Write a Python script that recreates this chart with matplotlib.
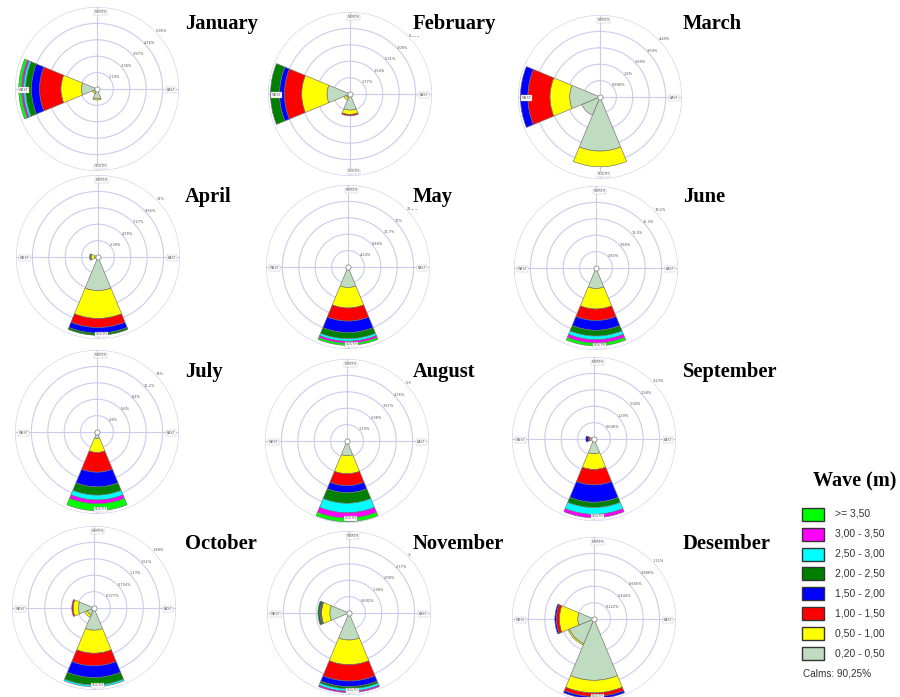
import numpy as np
import matplotlib
matplotlib.use("Agg")
import matplotlib.pyplot as plt
from matplotlib.patches import Rectangle

# ---------------- data ----------------
months = ["January", "February", "March", "April", "May", "June",
          "July", "August", "September", "October", "November", "Desember"]

wave_bins = ["0,20 - 0,50", "0,50 - 1,00", "1,00 - 1,50", "1,50 - 2,00",
             "2,00 - 2,50", "2,50 - 3,00", "3,00 - 3,50", ">= 3,50"]
bin_colors = ["#c0dcc0", "#ffff00", "#ff0000", "#0000ff",
              "#008000", "#00ffff", "#ff00ff", "#00ff00"]

compass_deg = {"N": 0, "E": 90, "S": 180, "SW": 225, "W": 270}

# ring step (%) of each month's rose (5 rings)
ring_step = [1.19, 1.77, 0.898, 2.39, 4.24, 3.83, 2.8, 1.19, 0.646, 0.377, 0.692, 0.222]
ring_labels = [
    ["1,19%", "2,38%", "3,57%", "4,76%", "5,95%"],
    ["1,77%", "3,54%", "5,31%", "7,08%", "8,85%"],
    ["0,898%", "1,8%", "2,69%", "3,59%", "4,49%"],
    ["2,39%", "4,78%", "7,17%", "9,56%", "12%"],
    ["4,24%", "8,48%", "12,7%", "17%", "21,2%"],
    ["3,83%", "7,66%", "11,5%", "15,3%", "19,2%"],
    ["2,8%", "5,6%", "8,4%", "11,2%", "14%"],
    ["1,19%", "2,38%", "3,57%", "4,76%", "5,95%"],
    ["0,646%", "1,29%", "1,94%", "2,58%", "3,23%"],
    ["0,377%", "0,754%", "1,13%", "1,51%", "1,89%"],
    ["0,692%", "1,38%", "2,08%", "2,77%", "3,46%"],
    ["0,222%", "0,444%", "0,666%", "0,888%", "1,11%"],
]

# frequency (%) per wave-height bin, by direction, for each month
jan = {"W": [1.13, 1.49, 1.55, 0.59, 0.42, 0.15, 0.14, 0.21],
       "S": [0.71, 0.09], "SW": [0.24, 0.12]}
feb = {"W": [2.48, 2.74, 1.86, 0.53, 0.97],
       "S": [1.74, 0.47, 0.14], "SW": [0.44, 0.27]}
mar = {"W": [1.66, 1.08, 1.21, 0.41],
       "S": [2.96, 0.86], "SW": [1.08]}
apr = {"S": [4.90, 4.06, 1.32, 0.83, 0.30],
       "W": [0.48, 0.54, 0.06, 0.06, 0.06]}
may = {"S": [5.30, 5.30, 3.39, 2.97, 1.59, 0.64, 0.53, 0.53]}
jun = {"S": [4.79, 4.79, 2.68, 2.29, 1.34, 0.87, 0.76, 0.67]}
jul = {"S": [1.12, 2.38, 3.36, 2.52, 1.40, 0.84, 0.63, 1.19]}
aug = {"S": [1.07, 1.31, 0.86, 0.51, 0.77, 0.69, 0.38, 0.27]}
sep = {"S": [0.58, 0.62, 0.61, 0.68, 0.21, 0.27, 0.13],
       "W": [0.10, 0.06, 0.07, 0.09]}
oct_ = {"S": [0.51, 0.53, 0.29, 0.27, 0.17, 0.04],
        "W": [0.36, 0.12, 0.03], "SW": [0.17, 0.06]}
nov = {"S": [1.14, 1.04, 0.69, 0.24, 0.09, 0.10, 0.06],
       "W": [0.81, 0.35, 0.03, 0.04, 0.08]}
dec = {"S": [0.83, 0.17, 0.05, 0.03],
       "W": [0.22, 0.25, 0.04, 0.02], "SW": [0.36, 0.02]}
month_data = [jan, feb, mar, apr, may, jun, jul, aug, sep, oct_, nov, dec]

calms_text = "Calms: 90,25%"

# ---------------- layout ----------------
W, H = 900, 697
fig = plt.figure(figsize=(W / 100, H / 100), dpi=100)
fig.patch.set_facecolor("white")

centers = [(97, 89), (350, 94), (600, 97),
           (98, 257), (348, 267), (596, 268),
           (97, 432), (347, 441), (594, 439),
           (94, 608), (349, 613), (594, 619)]
title_pos = [(185, 29), (413, 29), (683, 29),
             (185, 202), (413, 202), (683, 202),
             (185, 377), (413, 377), (683, 377),
             (185, 549), (413, 549), (683, 549)]
R = 82
ring_color = "#cbcbee"
th = np.linspace(0, 2 * np.pi, 361)

for i, (cx, cy) in enumerate(centers):
    ax = fig.add_axes([(cx - R) / W, 1 - (cy + R) / H, 2 * R / W, 2 * R / H],
                      projection="polar")
    ax.set_theta_zero_location("N")
    ax.set_theta_direction(-1)
    step = ring_step[i]
    rmax = 5 * step
    ax.set_ylim(0, rmax)
    ax.set_axis_off()
    for k in range(1, 6):
        ax.plot(th, np.full_like(th, k * step), color=ring_color, lw=0.8, zorder=1)
    for a in (0, 90, 180, 270):
        ax.plot([np.deg2rad(a)] * 2, [0, rmax], color=ring_color, lw=0.8, zorder=1)
    # ring labels
    for k, lbl in enumerate(ring_labels[i], start=1):
        ax.annotate(lbl, xy=(np.deg2rad(45), k * step), xytext=(0.3, 0),
                    textcoords="offset points", fontsize=2.5, color="#555555",
                    ha="left", va="center", zorder=5)
    # wedges
    data = month_data[i]
    for d, segs in data.items():
        bottom = 0.0
        theta = np.deg2rad(compass_deg[d])
        for j, v in enumerate(segs):
            ax.bar(theta, v, width=np.deg2rad(45), bottom=bottom, color=bin_colors[j],
                   edgecolor="#707070", linewidth=0.45, zorder=3)
            bottom += v
    # compass labels (white boxes, drawn over the wedges)
    lab_kw = dict(fontsize=2.4, color="#555555", zorder=9, textcoords="offset points",
                  bbox=dict(boxstyle="square,pad=0.2", fc="white", ec="#aaaaaa", lw=0.25))
    ax.annotate("NORTH", xy=(0, rmax), xytext=(2.5, -2.5), ha="center", va="top", **lab_kw)
    ax.annotate("SOUTH", xy=(np.pi, rmax), xytext=(2.5, 2), ha="center", va="bottom", **lab_kw)
    ax.annotate("EAST", xy=(np.pi / 2, rmax), xytext=(-2.5, -0.8), ha="right", va="center", **lab_kw)
    ax.annotate("WEST", xy=(1.5 * np.pi, rmax), xytext=(2.5, -0.8), ha="left", va="center", **lab_kw)
    ax.scatter([0], [0], s=14, facecolor="white", edgecolor="#8a8a8a", lw=0.6, zorder=8)

# ---------------- overlay: titles + legend ----------------
ov = fig.add_axes([0, 0, 1, 1])
ov.set_xlim(0, W)
ov.set_ylim(H, 0)
ov.axis("off")

for name, (tx, ty) in zip(months, title_pos):
    ov.text(tx, ty, name, family="Liberation Serif", weight="bold", fontsize=14.8,
            ha="left", va="baseline", color="black",
            bbox=dict(boxstyle="square,pad=0.12", fc="white", ec="none"))

ov.text(813, 486, "Wave (m)", family="Liberation Serif", weight="bold",
        fontsize=14.5, ha="left", va="baseline")

row_y = [514, 534, 554, 573, 593, 613, 633, 653]
for j, yc in enumerate(row_y):
    b = len(wave_bins) - 1 - j
    ov.add_patch(Rectangle((802, yc - 6.5), 22, 13, facecolor=bin_colors[b],
                           edgecolor="#333333", lw=1.0))
    ov.text(835, yc, wave_bins[b], family="Liberation Sans", fontsize=7.5,
            color="#333333", ha="left", va="center")
ov.text(803, 674, calms_text, family="Liberation Sans", fontsize=7.2,
        color="#333333", ha="left", va="center")

fig.savefig("out.png", dpi=100, facecolor="white")
